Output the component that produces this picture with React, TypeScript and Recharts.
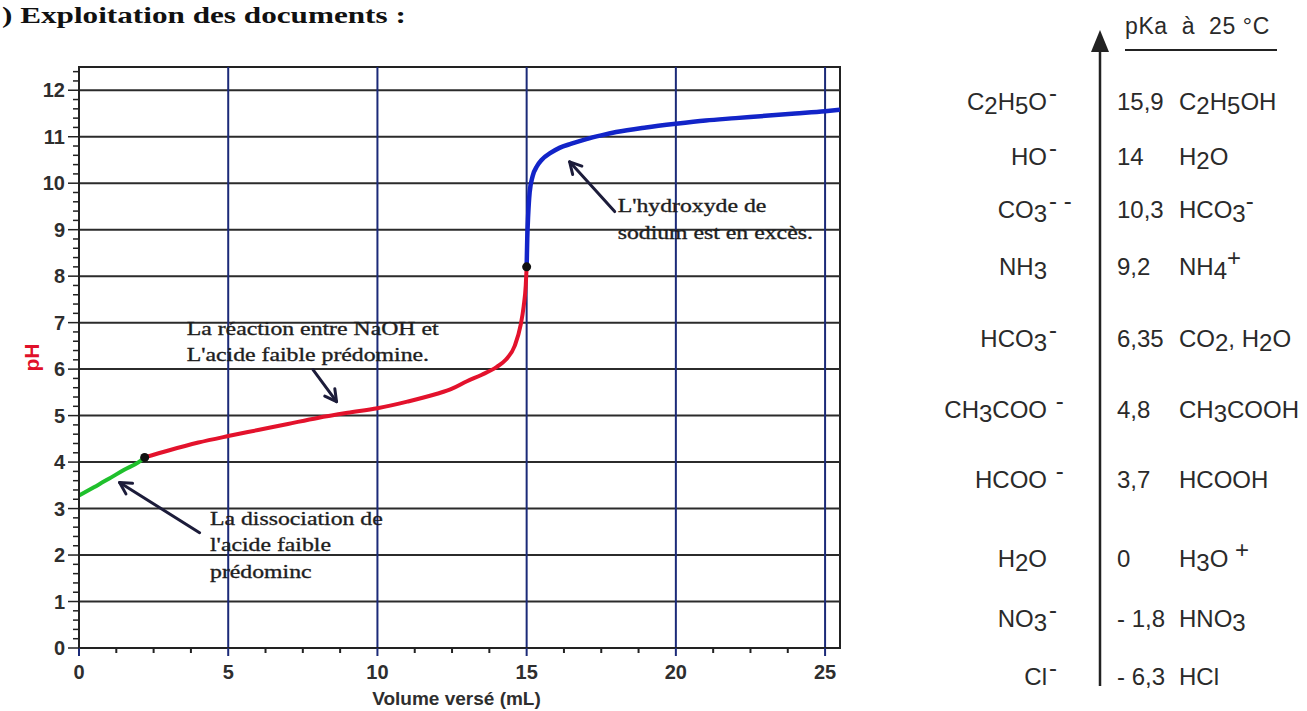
import React from "react";
import {
  ComposedChart,
  Line,
  XAxis,
  YAxis,
  ReferenceLine,
  ReferenceArea,
  ReferenceDot,
} from "recharts";

// titration curve: volume (mL) -> pH
const greenVolume = [0, 0.5, 1, 1.5, 2, 2.2];
const greenPH = [3.28, 3.46, 3.64, 3.83, 4.0, 4.1];

const redVolume = [2.2, 3, 4, 5, 6, 7, 8, 9, 10, 11, 12, 12.5, 13, 13.5, 14, 14.3, 14.6, 14.8, 14.9, 14.97, 15];
const redPH = [4.1, 4.25, 4.42, 4.56, 4.69, 4.82, 4.95, 5.06, 5.16, 5.3, 5.47, 5.58, 5.74, 5.88, 6.05, 6.2, 6.5, 6.95, 7.35, 7.8, 8.2];

const blueVolume = [15, 15.02, 15.05, 15.1, 15.2, 15.35, 15.5, 15.8, 16.1, 16.5, 17, 17.5, 18, 19, 20, 21, 22, 23, 24, 25, 25.5];
const bluePH = [8.2, 8.8, 9.3, 9.8, 10.15, 10.37, 10.5, 10.65, 10.76, 10.85, 10.95, 11.03, 11.1, 11.2, 11.28, 11.35, 11.4, 11.45, 11.5, 11.55, 11.58];

const markVolume = [2.2, 15];
const markPH = [4.1, 8.2];

const xMajorTicks = [0, 5, 10, 15, 20, 25];
const yMajorTicks = [0, 1, 2, 3, 4, 5, 6, 7, 8, 9, 10, 11, 12];

// annotations (text lines, anchor in data units, arrow from -> to)
const noteLines = [
  ["La réaction entre NaOH et", "L'acide faible prédomine."],
  ["La dissociation de", "l'acide faible", "prédominc"],
  ["L'hydroxyde de", "sodium est en excès."],
];
const noteAnchor = [
  [3.61, 6.74],
  [4.39, 2.65],
  [18.05, 9.37],
];
const arrowFrom = [
  [7.84, 5.99],
  [4.04, 2.48],
  [17.95, 9.39],
];
const arrowTo = [
  [8.63, 5.3],
  [1.36, 3.56],
  [16.44, 10.46],
];

// pKa scale on the right
const bases = ["C_2H_5O^-", "HO^-", "CO_3^- -", "NH_3", "HCO_3^-", "CH_3COO^ -", "HCOO^ -", "H_2O", "NO_3^-", "Cl^-"];
const pKaLabels = ["15,9", "14", "10,3", "9,2", "6,35", "4,8", "3,7", "0", "- 1,8", "- 6,3"];
const acids = ["C_2H_5OH", "H_2O", "HCO_3^-", "NH_4^+", "CO_2, H_2O", "CH_3COOH", "HCOOH", "H_3O^ +", "HNO_3", "HCl"];
const rowBaseline = [110, 165, 218, 275, 347, 418, 488, 567, 627, 685];

const NAVY = "#1b2a78";
const INK = "#222";

const rows = (xs: number[], ys: number[]) => xs.map((v, i) => ({ v, ph: ys[i] }));

const xTicks: number[] = [];
xMajorTicks.forEach((t, i) => {
  xTicks.push(t);
  if (i < xMajorTicks.length - 1) [1.25, 2.5, 3.75].forEach((d) => xTicks.push(t + d));
});
const yTicks: number[] = [];
yMajorTicks.forEach((t, i) => {
  const steps = i < yMajorTicks.length - 1 ? [0, 0.2, 0.4, 0.6, 0.8] : [0, 0.2, 0.4];
  steps.forEach((d) => yTicks.push(Math.round((t + d) * 10) / 10));
});

const XTick = (props: any) => {
  const { x, y, payload } = props;
  const major = xMajorTicks.includes(payload.value);
  return (
    <g>
      <line x1={x} x2={x} y1={y} y2={y + (major ? 8 : 5)} stroke={major ? NAVY : INK} strokeWidth={2} />
      {major && (
        <text x={x} y={y + 31} textAnchor="middle" fontFamily="Liberation Sans" fontWeight="bold" fontSize={20} fill="#2e2e2e">
          {payload.value}
        </text>
      )}
    </g>
  );
};

const YTick = (props: any) => {
  const { x, y, payload } = props;
  const major = Number.isInteger(payload.value);
  return (
    <g>
      <line x1={x - (major ? 11 : 6)} x2={x} y1={y} y2={y} stroke={INK} strokeWidth={1.5} />
      {major && (
        <text x={x - 14} y={y + 7} textAnchor="end" fontFamily="Liberation Sans" fontWeight="bold" fontSize={20} fill="#2e2e2e">
          {payload.value}
        </text>
      )}
    </g>
  );
};

const Arrow = (props: any) => {
  const { x1, y1, x2, y2 } = props;
  const a = Math.atan2(y2 - y1, x2 - x1);
  const len = 13;
  const spread = 0.5;
  const h1x = x2 - len * Math.cos(a - spread);
  const h1y = y2 - len * Math.sin(a - spread);
  const h2x = x2 - len * Math.cos(a + spread);
  const h2y = y2 - len * Math.sin(a + spread);
  return (
    <g stroke="#1c1c3a" strokeWidth={3} strokeLinecap="round" fill="none">
      <line x1={x1} y1={y1} x2={x2} y2={y2} />
      <polyline points={`${h1x},${h1y} ${x2},${y2} ${h2x},${h2y}`} strokeLinejoin="round" />
    </g>
  );
};

const Note = ({ cx, cy, lines }: { cx: number; cy: number; lines: string[] }) => (
  <text
    transform={`translate(${cx},${cy}) scale(1.25,1)`}
    fontFamily="Liberation Serif"
    fontSize={19}
    fill="#1e1e1e"
    stroke="#1e1e1e"
    strokeWidth={0.35}
  >
    {lines.map((l, i) => (
      <tspan key={i} x={0} dy={i === 0 ? 0 : 26.5}>
        {l}
      </tspan>
    ))}
  </text>
);

// "C_2H_5O^-": '_' lowers the next char, '^' raises the rest
const formulaParts = (s: string) => {
  const parts: { t: string; level: number }[] = [];
  let i = 0;
  while (i < s.length) {
    const c = s[i];
    if (c === "_") {
      parts.push({ t: s[i + 1], level: 1 });
      i += 2;
    } else if (c === "^") {
      parts.push({ t: s.slice(i + 1), level: -1 });
      i = s.length;
    } else {
      const last = parts[parts.length - 1];
      if (last && last.level === 0) last.t += c;
      else parts.push({ t: c, level: 0 });
      i += 1;
    }
  }
  return parts;
};

const shift = (level: number) => (level === 1 ? 4 : level === -1 ? -9 : 0);

const formulaSpans = (parts: { t: string; level: number }[]) => {
  let cur = 0;
  return parts.map((p, i) => {
    const dy = shift(p.level) - cur;
    cur = shift(p.level);
    return (
      <tspan key={i} dy={dy}>
        {p.t}
      </tspan>
    );
  });
};

const textStyle = { whiteSpace: "pre" as const };

const PKaScale = () => (
  <g fontFamily="Liberation Sans" fontSize={24} fill="#2a2a2a">
    <line x1={1100} x2={1100} y1={48} y2={686} stroke={INK} strokeWidth={2.5} />
    <polygon points="1100,30 1091,52 1109,52" fill={INK} />
    <text x={1125} y={34} fontSize={23} letterSpacing={0.6} style={textStyle}>
      pKa  à  25 °C
    </text>
    <line x1={1125} x2={1277} y1={50} y2={50} stroke={INK} strokeWidth={2} />
    {bases.map((b, i) => {
      const parts = formulaParts(b);
      const main = parts.filter((p) => p.level !== -1);
      const sup = parts.find((p) => p.level === -1);
      return (
        <g key={b}>
          <text x={1047} y={rowBaseline[i]} textAnchor="end" style={textStyle}>
            {formulaSpans(main)}
          </text>
          {sup && (
            <text x={1049} y={rowBaseline[i] - 9} style={textStyle}>
              {sup.t}
            </text>
          )}
        </g>
      );
    })}
    {pKaLabels.map((p, i) => (
      <text key={p} x={1117} y={rowBaseline[i]} style={textStyle}>
        {p}
      </text>
    ))}
    {acids.map((a, i) => (
      <text key={a} x={1179} y={rowBaseline[i]} style={textStyle}>
        {formulaSpans(formulaParts(a))}
      </text>
    ))}
  </g>
);

export default function App() {
  return (
    <div style={{ position: "absolute", left: 0, top: 0, width: 1307, height: 711, background: "#fff" }}>
      <div style={{ position: "absolute", left: 0, top: 0 }}>
        <ComposedChart width={1307} height={711} margin={{ top: 67, right: 467, bottom: 0, left: 0 }}>
          <XAxis
            dataKey="v"
            type="number"
            domain={[0, 25.5]}
            ticks={xTicks}
            interval={0}
            tick={<XTick />}
            tickLine={false}
            tickSize={0}
            tickMargin={0}
            axisLine={{ stroke: INK, strokeWidth: 2 }}
            height={63}
            allowDataOverflow
            label={{
              content: (p: any) => {
                const vb = p.viewBox;
                return (
                  <text x={vb.x + vb.width / 2 - 3} y={705} textAnchor="middle" fontFamily="Liberation Sans" fontWeight="bold" fontSize={19} fill="#2e2e2e">
                    Volume versé (mL)
                  </text>
                );
              },
            }}
          />
          <YAxis
            dataKey="ph"
            type="number"
            domain={[0, 12.5]}
            ticks={yTicks}
            interval={0}
            tick={<YTick />}
            tickLine={false}
            tickSize={0}
            tickMargin={0}
            axisLine={{ stroke: INK, strokeWidth: 2 }}
            width={79}
            allowDataOverflow
            label={{
              content: (p: any) => {
                const vb = p.viewBox;
                const cy = vb.y + vb.height / 2;
                return (
                  <text x={31} y={cy} transform={`rotate(-90, 31, ${cy})`} textAnchor="middle" dominantBaseline="central" fontFamily="Liberation Sans" fontWeight="bold" fontSize={21} fill="#e0102a">
                    pH
                  </text>
                );
              },
            }}
          />

          {yMajorTicks.slice(1).map((t) => (
            <ReferenceLine key={`h${t}`} y={t} stroke="#2b2b2b" strokeWidth={2} />
          ))}
          {xMajorTicks.slice(1).map((t) => (
            <ReferenceLine key={`v${t}`} x={t} stroke={NAVY} strokeWidth={2} />
          ))}
          <ReferenceArea x1={0} x2={25.5} y1={0} y2={12.5} fill="none" fillOpacity={0} stroke={INK} strokeWidth={2} />

          <Line data={rows(greenVolume, greenPH)} dataKey="ph" type="monotone" stroke="#1fc02c" strokeWidth={4} dot={false} isAnimationActive={false} />
          <Line data={rows(redVolume, redPH)} dataKey="ph" type="monotone" stroke="#e3122c" strokeWidth={4} dot={false} isAnimationActive={false} />
          <Line data={rows(blueVolume, bluePH)} dataKey="ph" type="monotone" stroke="#1224c8" strokeWidth={4.5} dot={false} isAnimationActive={false} />

          {markVolume.map((v, i) => (
            <ReferenceDot key={`m${i}`} x={v} y={markPH[i]} r={4.5} fill="#111" stroke="none" />
          ))}

          {arrowFrom.map((f, i) => (
            <ReferenceLine
              key={`a${i}`}
              segment={[
                { x: f[0], y: f[1] },
                { x: arrowTo[i][0], y: arrowTo[i][1] },
              ]}
              shape={(p: any) => <Arrow {...p} />}
            />
          ))}
          {noteLines.map((lines, i) => (
            <ReferenceDot
              key={`n${i}`}
              x={noteAnchor[i][0]}
              y={noteAnchor[i][1]}
              r={1}
              shape={(p: any) => <Note cx={p.cx} cy={p.cy} lines={lines} />}
            />
          ))}
        </ComposedChart>
      </div>
      <svg width={1307} height={711} style={{ position: "absolute", left: 0, top: 0, pointerEvents: "none" }}>
        <text
          transform="translate(2,23) scale(1.3,1)"
          fontFamily="Liberation Serif"
          fontWeight="bold"
          fontSize={24}
          fill="#111"
        >
          ) Exploitation des documents :
        </text>
        <PKaScale />
      </svg>
    </div>
  );
}
